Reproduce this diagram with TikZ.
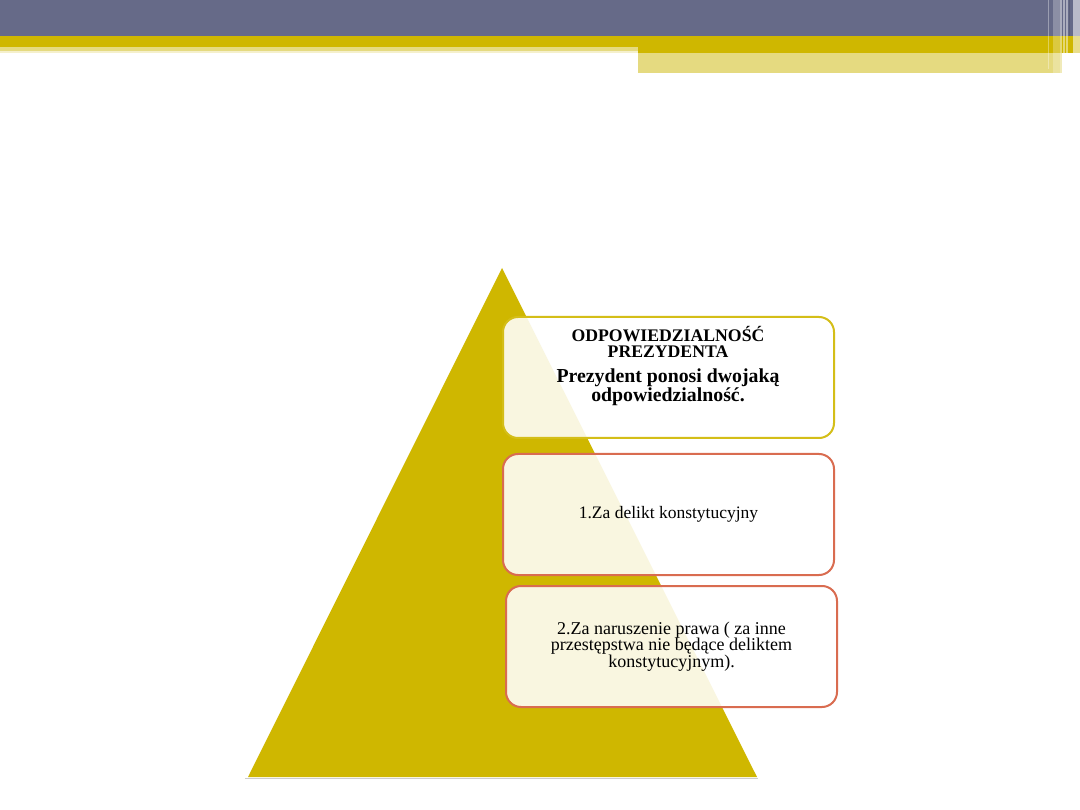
\documentclass[tikz,border=0pt]{standalone}
\usepackage{fontspec}
\setmainfont{Liberation Serif}
\definecolor{slate}{RGB}{102,106,136}
\definecolor{gold}{RGB}{207,183,0}
\definecolor{palegold}{RGB}{229,218,128}
\definecolor{boxgold}{RGB}{212,190,24}
\definecolor{salmon}{RGB}{217,108,80}
\newcommand\bigline{\fontsize{19.8}{16}\selectfont}
\tikzset{
  pbox/.style={draw, line width=2pt, rounded corners=15pt, fill=white, fill opacity=0.88, text opacity=1,
    minimum width=331pt, minimum height=121pt, inner sep=0pt, align=center},
  lbl/.style={align=center, inner sep=0pt, text=black},
}
\begin{document}
\begin{tikzpicture}[x=1pt,y=-1pt]
\useasboundingbox (0,0) rectangle (1080,810);
\fill[white] (0,0) rectangle (1080,810);
% header
\fill[slate] (0,0) rectangle (1080,36);
\fill[gold] (0,36) rectangle (1080,53);
\fill[palegold] (0,47) rectangle (638,53);
\fill[white!60!palegold] (0,51) rectangle (638,53);
\fill[palegold] (638,53) rectangle (1062,73);
% right vertical stripes
\fill[white, opacity=0.35] (1048,0) rectangle (1049,69);
\fill[white, opacity=0.25] (1052.5,0) rectangle (1059.5,73);
\fill[white, opacity=0.45] (1060,0) rectangle (1061.5,73);
\fill[white, opacity=0.45] (1063,0) rectangle (1064.5,75);
\fill[white, opacity=0.45] (1066,0) rectangle (1067.5,75);
\fill[slate!80!black, opacity=0.5] (1069,0) rectangle (1070,36);
\fill[white, opacity=0.55] (1073,0) rectangle (1080,78);
% pyramid
\coordinate (apex) at (502,268);
\coordinate (bl) at (248,777);
\coordinate (br) at (757,777);
\fill[gold] (apex) -- (br) -- (bl) -- cycle;
\draw[black!20, line width=1pt] (245,778.5) -- (758,778.5);
% boxes
\node[pbox, draw=boxgold] (b1) at (668.5,377.5) {};
\node[lbl, font=\bfseries\fontsize{17.7}{16}\selectfont] (t1) at (668,366) {ODPOWIEDZIALNOŚĆ\\PREZYDENTA\\[9pt]\bigline Prezydent ponosi dwojaką\\\bigline odpowiedzialność.};
\node[pbox, draw=salmon, font=\fontsize{17.5}{17}\selectfont] (b2) at (668.5,514.5) {1.Za delikt konstytucyjny};
\node[pbox, draw=salmon, font=\fontsize{18}{16.5}\selectfont] (b3) at (671.5,646.5) {2.Za naruszenie prawa ( za inne\\przestępstwa nie będące deliktem\\konstytucyjnym).};
\end{tikzpicture}
\end{document}
